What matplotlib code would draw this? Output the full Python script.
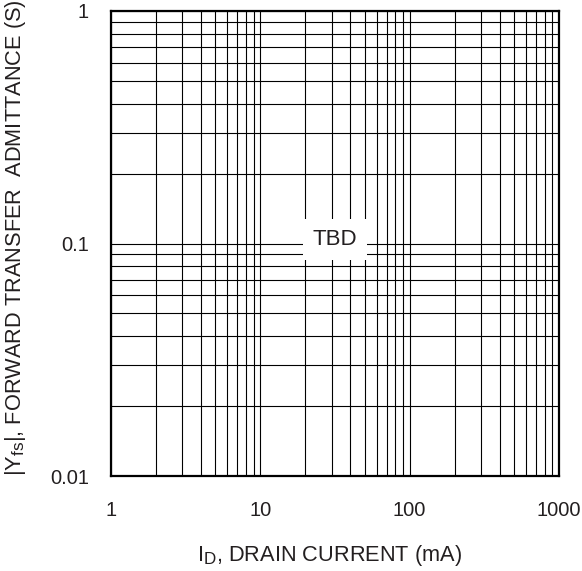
import matplotlib
matplotlib.use("Agg")
import matplotlib.pyplot as plt
from matplotlib.ticker import LogLocator, NullFormatter, FixedLocator, FixedFormatter
try:
    import matplotlib._mathtext as _mt
    _mt.SHRINK_FACTOR = 0.78
except Exception:
    pass

plt.rcParams['font.family'] = ['Liberation Sans', 'DejaVu Sans']

x_ticks = [1, 10, 100, 1000]
x_tick_labels = ["1", "10", "100", "1000"]
y_ticks = [0.01, 0.1, 1]
y_tick_labels = ["0.01", "0.1", "1"]
x_range = [1, 1000]
y_range = [0.01, 1]
note_text = "TBD"
note_pos = (31.6, 0.104)
x_label = r"I$_\mathregular{D}$, DRAIN CURRENT (mA)"
y_label = r"|Y$_\mathregular{fs}$|, FORWARD TRANSFER  ADMITTANCE (S)"

TXT = '#231f20'

fig = plt.figure(figsize=(5.82, 5.71), dpi=100)
ax = fig.add_axes([111/582, 1-476/571, (559-111)/582, (476-11)/571])
ax.set_xscale('log')
ax.set_yscale('log')
ax.set_xlim(*x_range)
ax.set_ylim(*y_range)

ax.xaxis.set_major_locator(FixedLocator(x_ticks))
ax.xaxis.set_major_formatter(FixedFormatter(x_tick_labels))
ax.yaxis.set_major_locator(FixedLocator(y_ticks))
ax.yaxis.set_major_formatter(FixedFormatter(y_tick_labels))
ax.xaxis.set_minor_locator(LogLocator(base=10, subs=range(2, 10), numticks=20))
ax.yaxis.set_minor_locator(LogLocator(base=10, subs=range(2, 10), numticks=20))
ax.xaxis.set_minor_formatter(NullFormatter())
ax.yaxis.set_minor_formatter(NullFormatter())

ax.grid(True, which='both', color='black', linewidth=0.8)
ax.set_axisbelow(True)
ax.tick_params(which='both', length=0)
ax.tick_params(axis='x', pad=18, labelsize=14.5, labelcolor=TXT)
ax.tick_params(axis='y', pad=16, labelsize=14.5, labelcolor=TXT)

for s in ax.spines.values():
    s.set_linewidth(1.6)
    s.set_color('black')

ax.text(*note_pos, note_text, ha='center', va='center', fontsize=16, color=TXT,
        bbox=dict(boxstyle='square,pad=0.45', facecolor='white', edgecolor='none'),
        zorder=5)

fig.text(16/582, 1-238/571, y_label, rotation=90, ha='center', va='center',
         fontsize=15.7, color=TXT)
fig.text(330/582, 1-555/571, x_label, ha='center', va='center',
         fontsize=15.7, color=TXT)

fig.savefig("out.png", dpi=100)
